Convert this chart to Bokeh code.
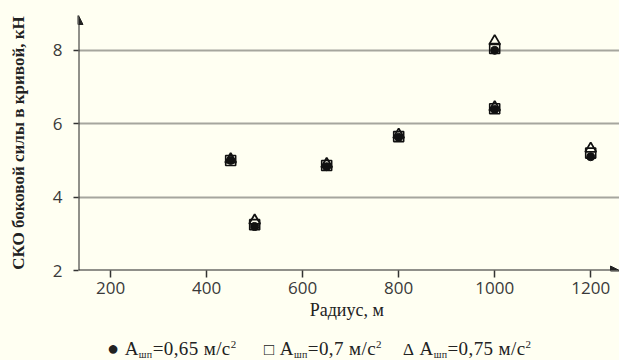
from bokeh.plotting import figure
from bokeh.layouts import column
from bokeh.models import Arrow, NormalHead, FixedTicker, Range1d, Div
from bokeh.embed import file_html
from bokeh.resources import INLINE

# ---- data ----
radius = [450, 500, 650, 800, 1000, 1000, 1200]
sko_065 = [5.00, 3.20, 4.83, 5.63, 8.00, 6.39, 5.10]
sko_070 = [5.00, 3.25, 4.86, 5.65, 8.05, 6.41, 5.20]
sko_075 = [5.03, 3.36, 4.90, 5.70, 8.25, 6.45, 5.32]
x_ticks = [200, 400, 600, 800, 1000, 1200]
y_ticks = [2, 4, 6, 8]
y_title = "СКО боковой силы в кривой, кН"
x_title = "Радиус,  м"
legend_vals = ["=0,65 м/с", "=0,7 м/с", "=0,75 м/с"]
legend_marks = ["●", "□", "Δ"]

BG = "#fffff2"
X0, X1 = 133, 1260
Y0, Y1 = 2, 8.95

p = figure(width=619, height=332, output_backend="svg", toolbar_location=None,
           x_range=Range1d(X0, X1), y_range=Range1d(Y0, Y1),
           min_border_left=78, min_border_right=0, min_border_top=15,
           min_border_bottom=62)
p.background_fill_color = BG
p.border_fill_color = BG
p.outline_line_color = None

p.xgrid.grid_line_color = None
p.ygrid.grid_line_color = "#a6a69e"
p.ygrid.grid_line_width = 2
p.ygrid.ticker = FixedTicker(ticks=y_ticks)

for ax in (p.xaxis, p.yaxis):
    ax.axis_line_color = None
    ax.major_tick_line_color = "#333333"
    ax.major_tick_line_width = 1.5
    ax.minor_tick_line_color = None
    ax.major_tick_in = 0
    ax.major_label_text_font = "Open Sans"
    ax.major_label_text_font_size = "17px"
    ax.major_label_text_color = "#3a3a3a"
    ax.axis_label_text_font = "Liberation Serif"
    ax.axis_label_text_color = "#222222"
    ax.axis_label_text_font_size = "18px"
p.xaxis.ticker = FixedTicker(ticks=x_ticks)
p.yaxis.ticker = FixedTicker(ticks=y_ticks)
p.xaxis.major_tick_out = 7
p.yaxis.major_tick_out = 5
p.xaxis.major_label_standoff = 4
p.yaxis.major_label_standoff = 11
p.xaxis.axis_label = x_title
p.xaxis.axis_label_text_font_style = "normal"
p.xaxis.axis_label_standoff = 3
p.yaxis.axis_label = y_title
p.yaxis.axis_label_text_font_style = "bold"
p.yaxis.axis_label_text_font_size = "17px"
p.yaxis.axis_label_standoff = 22

# axes with arrows
head = dict(size=9, fill_color="#222222", line_color="#222222")
p.add_layout(Arrow(end=NormalHead(**head), x_start=X0, y_start=Y0, x_end=X1, y_end=Y0,
                   line_color="#222222", line_width=2))
p.add_layout(Arrow(end=NormalHead(**head), x_start=X0, y_start=Y0, x_end=X0, y_end=Y1,
                   line_color="#222222", line_width=2))

# data points
p.scatter(radius, sko_065, marker="circle", size=8, fill_color="#111111",
          line_color="#111111")
p.scatter(radius, sko_070, marker="square", size=10, fill_color=None,
          line_color="#111111", line_width=1.6)
p.scatter(radius, sko_075, marker="triangle", size=11, fill_color=None,
          line_color="#111111", line_width=1.8)

# legend as HTML text (subscripts / superscripts)
mark_left = [107, 264, 403]
mark_size = [20, 17, 17]
spans = []
for i in range(3):
    spans.append(
        f'<span style="position:absolute; left:{mark_left[i]}px; top:2px; white-space:nowrap;">'
        f'<span style="font-size:{mark_size[i]}px;">{legend_marks[i]}</span>&nbsp;A'
        f'<span style="font-size:10px; vertical-align:-3px;">шп</span>{legend_vals[i]}'
        f'<span style="font-size:11px; vertical-align:7px;">2</span></span>'
    )
legend_html = (
    '<div style="position:relative; width:619px; height:28px; '
    'font-family:\'Liberation Serif\'; font-size:19px; letter-spacing:0.4px; '
    'color:#222222; line-height:20px;">'
    + "".join(spans) + '</div>'
)
legend = Div(text=legend_html, width=619, height=28,
             styles={"background-color": BG, "padding-top": "0px",
                     "box-sizing": "border-box", "margin": "0"})

layout = column(p, legend, spacing=0, styles={"background-color": BG})

open("out.html", "w").write(file_html(layout, INLINE))
